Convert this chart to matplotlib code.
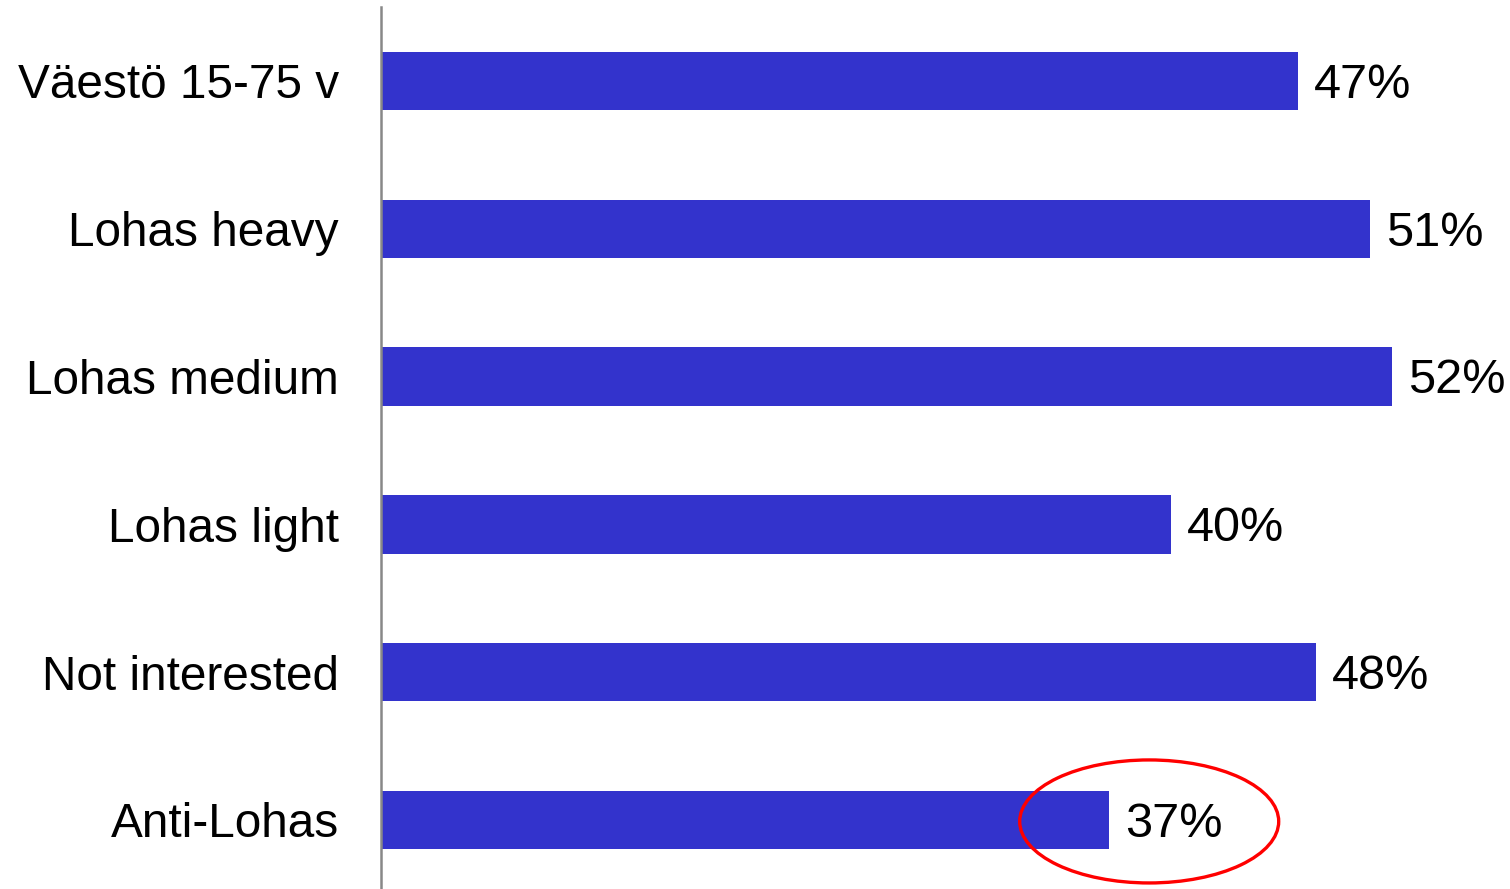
import matplotlib
matplotlib.use("Agg")
import matplotlib.pyplot as plt
from matplotlib.patches import Ellipse

categories = ["Väestö 15-75 v", "Lohas heavy", "Lohas medium", "Lohas light", "Not interested", "Anti-Lohas"]
values = [47.0, 50.7, 51.8, 40.5, 47.9, 37.3]
value_labels = ["47%", "51%", "52%", "40%", "48%", "37%"]

plt.rcParams['font.family'] = ['Liberation Sans', 'DejaVu Sans']

W, H = 1510, 889
PX_PER_UNIT = 19.525
fig = plt.figure(figsize=(W / 100, H / 100), dpi=100)
ax_left = 380.5 / W
ax_top = 7 / H
ax = fig.add_axes([ax_left, 0.0, 1 - ax_left, 1 - ax_top])

y = list(range(len(categories)))
ax.barh(y, values, height=0.395, color="#3333CC", left=0)

ax.set_ylim(5.467, -0.5)
ax.set_xlim(0, (W - 380.5) / PX_PER_UNIT)

for yi, v, lab in zip(y, values, value_labels):
    ax.text(v + 16 / PX_PER_UNIT, yi + 0.03, lab, va="center", ha="left", fontsize=35, color="black")

ax.set_yticks(y)
ax.set_yticklabels(categories, fontsize=34.4)
ax.tick_params(axis="y", length=0, pad=30)
ax.set_xticks([])
for s in ["top", "right", "bottom"]:
    ax.spines[s].set_visible(False)
ax.spines["left"].set_color("#888888")
ax.spines["left"].set_linewidth(1.8)

# Highlight ellipse around the last bar's value
ell = Ellipse((values[5] + 2.07, 5.01), width=259 / PX_PER_UNIT, height=123 / 147.8,
              fill=False, edgecolor="#FF0000", linewidth=2.4, clip_on=False)
ax.add_patch(ell)

fig.savefig("out.png", dpi=100)
